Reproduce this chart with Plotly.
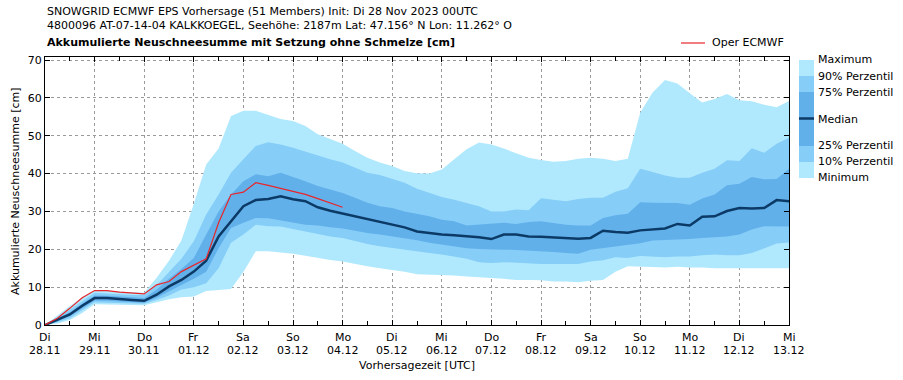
import plotly.graph_objects as go

# ---------------- data (6-hourly lead times, hours since init) ----------------
lead_hours = list(range(0, 361, 6))

p_max = [0, 2.5, 5.0, 7.2, 9.2, 9.0, 8.8, 8.6, 8.5, 12.5, 17.0, 22.3, 32.0, 42.4, 46.6, 55.2,
         56.6, 56.6, 55.4, 54.4, 53.9, 52.6, 50.4, 49.1, 47.9, 46.0, 44.2, 42.9, 42.0, 40.7,
         40.1, 40.0, 41.1, 43.8, 46.4, 48.2, 47.7, 46.6, 45.3, 44.2, 43.6, 43.1, 43.3, 43.9,
         44.2, 43.9, 43.3, 43.9, 56.1, 61.4, 64.7, 63.8, 61.2, 58.8, 59.7, 61.0, 59.4, 59.1,
         58.2, 57.5, 59.2]
p90 = [0, 2.0, 4.0, 6.3, 8.5, 8.3, 8.1, 7.9, 7.9, 10.5, 14.0, 17.5, 22.1, 29.2, 34.5, 40.2,
       43.8, 47.3, 48.3, 47.7, 46.8, 45.8, 44.6, 43.8, 42.9, 41.6, 40.2, 39.6, 38.7, 37.6,
       36.0, 34.8, 33.8, 33.1, 32.3, 31.4, 30.0, 30.0, 30.5, 30.3, 33.5, 33.0, 32.7, 33.3,
       33.6, 33.6, 35.2, 36.1, 41.3, 40.4, 39.5, 38.9, 38.9, 40.2, 41.3, 43.5, 43.3, 46.7,
       45.5, 47.9, 49.5]
p75 = [0, 1.6, 3.4, 5.6, 7.8, 7.7, 7.5, 7.3, 7.1, 9.3, 12.2, 14.8, 17.7, 23.9, 30.0, 34.5,
       38.0, 39.8, 39.3, 40.2, 39.2, 38.0, 36.7, 35.8, 34.9, 33.6, 32.3, 31.4, 30.9, 30.0,
       29.4, 28.7, 27.8, 27.4, 26.3, 26.5, 26.7, 27.0, 26.7, 27.2, 27.4, 27.0, 26.5, 26.3,
       26.3, 28.3, 29.0, 29.4, 32.4, 32.3, 32.3, 32.2, 31.8, 33.4, 34.5, 36.9, 37.3, 39.1,
       38.5, 38.6, 41.3]
median = [0, 1.3, 2.8, 5.1, 7.1, 7.1, 6.8, 6.6, 6.4, 8.0, 10.2, 11.9, 14.1, 17.0, 23.4, 27.4,
          31.4, 33.0, 33.3, 34.0, 33.2, 32.7, 31.1, 30.2, 29.5, 28.7, 28.1, 27.4, 26.7, 25.8,
          24.7, 24.3, 23.9, 23.7, 23.4, 23.2, 22.7, 23.9, 23.9, 23.4, 23.3, 23.2, 23.0, 22.8,
          23.0, 24.9, 24.6, 24.4, 25.0, 25.3, 25.5, 26.7, 26.3, 28.6, 28.7, 30.1, 30.9, 30.8,
          30.9, 33.0, 32.7]
p25 = [0, 1.0, 2.3, 4.5, 6.5, 6.4, 6.2, 6.0, 5.9, 7.2, 9.0, 10.6, 12.2, 14.1, 20.3, 25.6,
       27.0, 28.3, 28.2, 27.7, 27.2, 26.5, 26.3, 25.8, 25.5, 24.8, 24.3, 23.9, 23.4, 23.0,
       22.4, 21.7, 21.2, 20.6, 20.3, 20.1, 20.1, 19.9, 19.8, 19.7, 19.5, 19.3, 19.0, 18.8,
       19.9, 20.3, 20.8, 21.2, 21.6, 22.3, 22.4, 22.5, 22.7, 23.0, 23.2, 23.4, 23.9, 25.2,
       26.1, 26.1, 26.0]
p10 = [0, 0.7, 1.8, 3.8, 6.0, 5.9, 5.8, 5.7, 5.6, 6.6, 7.8, 9.4, 10.0, 11.0, 15.0, 21.7,
       23.9, 26.5, 26.1, 26.0, 25.3, 24.8, 24.0, 23.4, 23.0, 22.1, 21.4, 20.8, 20.3, 19.9,
       19.4, 19.0, 18.6, 18.1, 17.5, 16.6, 16.4, 16.6, 16.4, 16.3, 16.1, 16.1, 16.1, 16.1,
       16.8, 17.1, 17.9, 17.7, 18.2, 18.1, 17.9, 18.1, 18.1, 18.4, 18.6, 18.4, 18.4, 19.0,
       20.3, 21.5, 21.8]
p_min = [0, 0.4, 1.3, 3.2, 5.5, 5.4, 5.3, 5.2, 5.2, 6.0, 6.8, 7.3, 7.5, 9.0, 9.3, 9.5,
         14.0, 19.5, 19.5, 19.2, 18.8, 18.3, 17.7, 17.2, 16.8, 16.1, 15.5, 15.0, 14.6, 14.1,
         13.4, 13.3, 13.3, 13.1, 12.8, 12.5, 12.4, 12.2, 11.9, 11.9, 11.8, 11.5, 11.5, 11.3,
         11.7, 11.9, 14.1, 15.5, 15.3, 15.3, 15.2, 15.4, 15.2, 15.2, 15.0, 15.0, 15.0, 15.0,
         15.0, 15.0, 15.0]
oper_hours = list(range(0, 145, 6))
oper = [0, 1.8, 4.4, 7.2, 9.1, 9.1, 8.7, 8.5, 8.2, 10.6, 11.5, 14.1, 15.7, 17.5, 27.0, 34.5,
        35.1, 37.6, 36.9, 36.1, 35.2, 34.5, 33.4, 32.3, 31.1]

tick_hours = list(range(0, 361, 24))
tick_days = ["Di", "Mi", "Do", "Fr", "Sa", "So", "Mo", "Di", "Mi", "Do", "Fr", "Sa", "So", "Mo", "Di", "Mi"]
tick_dates = ["28.11", "29.11", "30.11", "01.12", "02.12", "03.12", "04.12", "05.12", "06.12",
              "07.12", "08.12", "09.12", "10.12", "11.12", "12.12", "13.12"]

legend_labels = ["Maximum", "90% Perzentil", "75% Perzentil", "Median",
                 "25% Perzentil", "10% Perzentil", "Minimum"]

# ---------------- styling ----------------
C_LIGHT = "#b0e9fd"
C_MID = "#86cdf8"
C_DARK = "#62b0ea"
C_MED = "#0c3a66"
C_OPER = "#e8262a"
FONT = "DejaVu Sans, Liberation Sans, sans-serif"

W, H = 903, 380
PL, PR, PT, PB = 45, 789, 57, 325   # plot area in pixels
L, R, T, B = PL, W - PR, PT, H - PB
PW, PH = PR - PL, PB - PT


def px(xp):
    return (xp - PL) / PW


def py(yp):
    return (PB - yp) / PH


fig = go.Figure()
nl = dict(width=0)
fig.add_trace(go.Scatter(x=lead_hours, y=p_min, mode="lines", line=nl, showlegend=False, hoverinfo="skip"))
fig.add_trace(go.Scatter(x=lead_hours, y=p_max, mode="lines", line=nl, fill="tonexty",
                         fillcolor=C_LIGHT, showlegend=False))
fig.add_trace(go.Scatter(x=lead_hours, y=p10, mode="lines", line=nl, showlegend=False, hoverinfo="skip"))
fig.add_trace(go.Scatter(x=lead_hours, y=p90, mode="lines", line=nl, fill="tonexty",
                         fillcolor=C_MID, showlegend=False))
fig.add_trace(go.Scatter(x=lead_hours, y=p25, mode="lines", line=nl, showlegend=False, hoverinfo="skip"))
fig.add_trace(go.Scatter(x=lead_hours, y=p75, mode="lines", line=nl, fill="tonexty",
                         fillcolor=C_DARK, showlegend=False))
fig.add_trace(go.Scatter(x=lead_hours, y=median, mode="lines", line=dict(color=C_MED, width=2.5),
                         showlegend=False))
fig.add_trace(go.Scatter(x=oper_hours, y=oper, mode="lines", line=dict(color=C_OPER, width=1.2),
                         showlegend=False))

axis_common = dict(showline=True, linecolor="black", linewidth=1, mirror="ticks",
                   ticks="inside", ticklen=5, tickcolor="black", zeroline=False,
                   showgrid=True, gridcolor="#9a9a9a", griddash="dot", gridwidth=1,
                   tickfont=dict(family=FONT, size=11, color="black"))

fig.update_xaxes(range=[0, 360], tickmode="array", tickvals=tick_hours, showticklabels=False,
                 minor=dict(dtick=12, tick0=0, ticks="inside", ticklen=4, tickcolor="black",
                            showgrid=False),
                 **axis_common)
fig.update_yaxes(range=[0, 70.8], tickmode="linear", tick0=0, dtick=10, **axis_common)

fig.update_layout(width=W, height=H, margin=dict(l=L, r=R, t=T, b=B, autoexpand=False),
                  paper_bgcolor="white", plot_bgcolor="white",
                  font=dict(family=FONT, size=11, color="black"), showlegend=False)

ann = []
# x tick labels (two lines, tight spacing)
for h, d, t in zip(tick_hours, tick_days, tick_dates):
    ann.append(dict(text=d, x=h, xref="x", y=py(337.5), yref="paper", xanchor="center", yanchor="middle"))
    ann.append(dict(text=t, x=h, xref="x", y=py(350), yref="paper", xanchor="center", yanchor="middle"))

paper_ann = []
paper_ann.append(dict(text="SNOWGRID ECMWF EPS Vorhersage (51 Members) Init: Di 28 Nov 2023 00UTC",
                      x=0, y=py(12), xanchor="left", yanchor="middle"))
paper_ann.append(dict(text="4800096 AT-07-14-04 KALKKOEGEL, Seehöhe: 2187m Lat: 47.156° N Lon: 11.262° O",
                      x=0, y=py(26), xanchor="left", yanchor="middle"))
paper_ann.append(dict(text="<b>Akkumulierte Neuschneesumme mit Setzung ohne Schmelze [cm]</b>",
                      x=0, y=py(43), xanchor="left", yanchor="middle"))
paper_ann.append(dict(text="Vorhersagezeit [UTC]", x=0.5, y=py(365), xanchor="center", yanchor="middle"))
paper_ann.append(dict(text="Akkumulierte Neuschneesumme [cm]", x=px(15), y=0.5, textangle=-90,
                      xanchor="center", yanchor="middle"))
paper_ann.append(dict(text="Oper ECMWF", x=px(710), y=py(43), xanchor="left", yanchor="middle"))

label_y = [60, 76, 92, 120, 145, 161, 177]
for lab, yy in zip(legend_labels, label_y):
    paper_ann.append(dict(text=lab, x=px(816), y=py(yy), xanchor="left", yanchor="middle"))
for a in paper_ann:
    a.update(xref="paper", yref="paper")
ann += paper_ann

for a in ann:
    a.update(showarrow=False, font=dict(family=FONT, size=11, color="black"))
fig.update_layout(annotations=ann)

shapes = []
shapes.append(dict(type="line", x0=px(681), x1=px(705), y0=py(43), y1=py(43),
                   line=dict(color=C_OPER, width=1.2)))
bands = [(60, 76, C_LIGHT), (76, 92, C_MID), (92, 146, C_DARK), (146, 162, C_MID), (162, 178, C_LIGHT)]
for y0, y1, c in bands:
    shapes.append(dict(type="rect", x0=px(799), x1=px(814), y0=py(y1), y1=py(y0),
                       fillcolor=c, line=dict(width=0)))
shapes.append(dict(type="line", x0=px(799), x1=px(814), y0=py(118.5), y1=py(118.5),
                   line=dict(color=C_MED, width=2.5)))
for s in shapes:
    s.update(xref="paper", yref="paper", layer="above")
fig.update_layout(shapes=shapes)

fig.write_html("out.html", config={"displayModeBar": False},
               post_script="document.body.style.margin='0px';document.body.style.padding='0px';")
